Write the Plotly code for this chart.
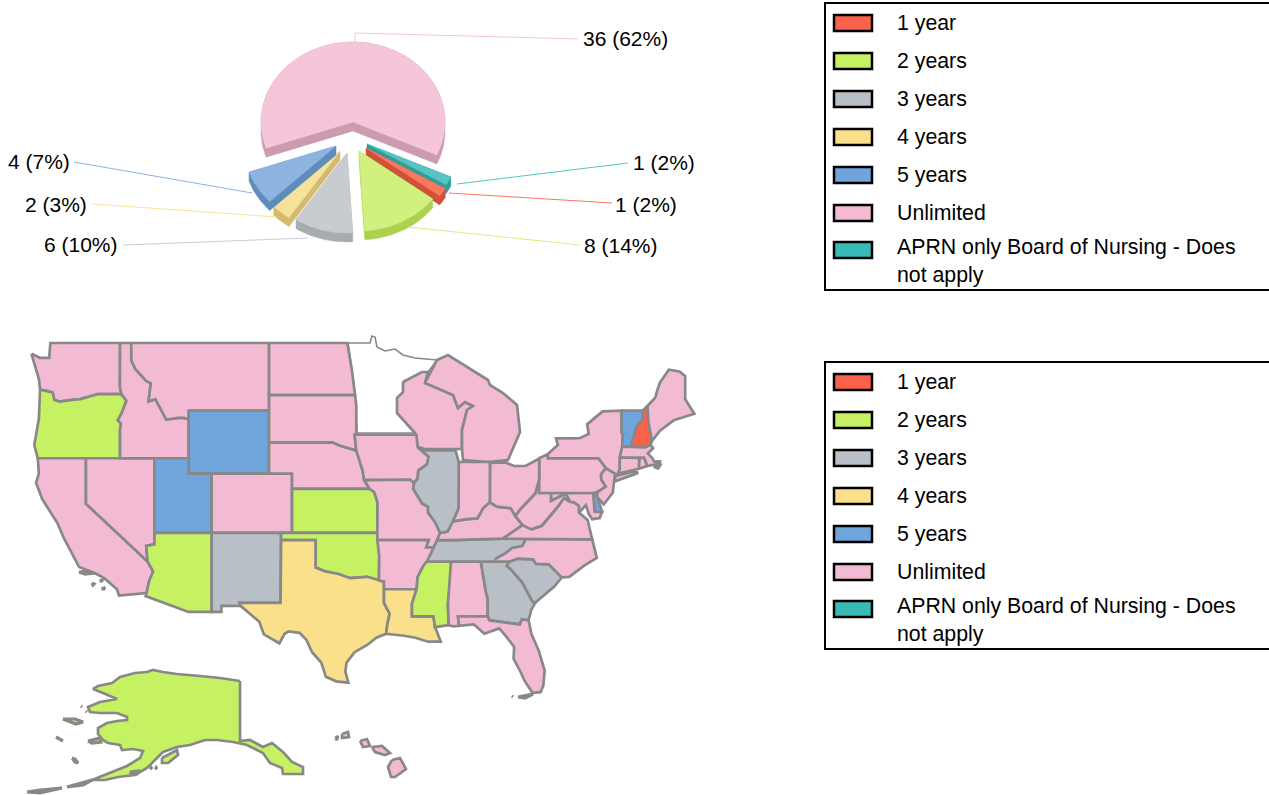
import numpy as np
import plotly.graph_objects as go

# ---------- data ----------
CATEGORIES = ["1 year", "2 years", "3 years", "4 years", "5 years", "Unlimited",
              "APRN only Board of Nursing - Does<br>not apply"]
COUNTS = [1, 8, 6, 2, 4, 36, 1]
STATES_1Y = ["NH"]
STATES_2Y = ["OR", "AZ", "KS", "OK", "MS", "AK"]
STATES_3Y = ["NM", "IL", "TN", "GA", "SC"]
STATES_4Y = ["TX", "LA"]
STATES_5Y = ["WY", "UT", "VT", "DE"]
STATES_NONE = ["MN"]

# ---------- style ----------
FONT = "Liberation Sans"
FILL = ["#F9614A", "#C5F163", "#B9BFC6", "#FAE08A", "#70A5DC", "#F3BBD3", "#38BBB6"]
PIE_TOP = ["#F87860", "#D0F080", "#C8CCD0", "#F7E29C", "#8DB4E0", "#F5C6DA", "#58C4C2"]
PIE_SIDE = ["#D05038", "#ACD050", "#A8ACB0", "#D2BB6C", "#5F8DBB", "#CD9BB0", "#309C9C"]
PIE_ORDER = [5, 6, 0, 1, 2, 3, 4]
PIE_OFFSET = [(13, 26), (6, 29), (-6, 31), (-13, 29), (-17, 24), (0, 0), (14, 22)]
PIE_LEADER = [[(449, 193), (612, 203)], [(408, 227), (580, 245)], [(308, 238), (123, 245)],
              [(277, 217), (92, 204)], [(252, 193), (74, 162)],
              [(355, 42), (355, 33), (578, 39)], [(457, 184), (628, 163)]]
PIE_LABEL = [(613, 204, "left"), (582, 245, "left"), (120, 244, "right"), (89, 204, "right"),
             (72, 161, "right"), (581, 38, "left"), (631, 162, "left")]
BORDER = "#888888"

# ---------- state outlines, (lon, lat) ----------
OUTLINES = {
 "WA": [(-124.75,48.38),(-124,48.15),(-123.2,48.15),(-123.1,49),(-117.03,49),(-117.04,46.42),(-116.92,46.0),(-118.98,46.0),(-119.3,45.93),(-120.5,45.7),(-121.2,45.65),(-122.3,45.55),(-122.75,45.65),(-122.9,46.1),(-123.4,46.2),(-124.0,46.27),(-124.1,46.9),(-124.4,47.6)],
 "OR": [(-124.0,46.27),(-123.4,46.2),(-122.9,46.1),(-122.75,45.65),(-122.3,45.55),(-121.2,45.65),(-120.5,45.7),(-119.3,45.93),(-118.98,46.0),(-116.92,46.0),(-116.48,45.6),(-116.85,44.9),(-117.22,44.4),(-116.95,44.2),(-117.03,43.8),(-117.03,42.0),(-124.2,42.0),(-124.5,42.85),(-124.1,44.5)],
 "CA": [(-124.2,42),(-120,42),(-120,39),(-114.63,35.0),(-114.15,34.27),(-114.5,33.6),(-114.72,32.72),(-117.12,32.53),(-117.3,33.0),(-118.4,33.8),(-119.2,34.15),(-120.6,34.6),(-121.3,35.7),(-121.9,36.6),(-122.5,37.7),(-123.0,38.3),(-123.8,39.3),(-124.35,40.4),(-124.1,41.0)],
 "NV": [(-120,42),(-114.04,42),(-114.04,36.2),(-114.75,36.1),(-114.63,35),(-120,39)],
 "ID": [(-117.03,49),(-116.05,49),(-116.05,48),(-115.7,47.5),(-114.75,46.8),(-114.35,46.65),(-114.55,45.55),(-113.95,45.7),(-113.45,45.05),(-113,44.45),(-112,44.55),(-111.5,44.55),(-111.05,44.48),(-111.05,42),(-117.03,42),(-117.03,43.8),(-116.95,44.2),(-117.22,44.4),(-116.85,44.9),(-116.48,45.6),(-116.92,46),(-117.04,46.42)],
 "MT": [(-116.05,49),(-104.05,49),(-104.05,45),(-111.05,45),(-111.05,44.48),(-111.5,44.55),(-112,44.55),(-113,44.45),(-113.45,45.05),(-113.95,45.7),(-114.55,45.55),(-114.35,46.65),(-114.75,46.8),(-115.7,47.5),(-116.05,48)],
 "WY": [(-111.05,45),(-104.05,45),(-104.05,41),(-111.05,41)],
 "UT": [(-114.04,42),(-111.05,42),(-111.05,41),(-109.05,41),(-109.05,37),(-114.04,37)],
 "CO": [(-109.05,41),(-102.05,41),(-102.05,37),(-109.05,37)],
 "AZ": [(-114.04,37),(-109.05,37),(-109.05,31.33),(-111.07,31.33),(-114.8,32.5),(-114.72,32.72),(-114.5,33.6),(-114.15,34.27),(-114.63,35),(-114.75,36.1),(-114.04,36.2)],
 "NM": [(-109.05,37),(-103,37),(-103.05,32),(-106.62,32),(-106.53,31.78),(-108.2,31.78),(-108.2,31.33),(-109.05,31.33)],
 "ND": [(-104.05,49),(-97.23,49),(-96.85,47.5),(-96.56,45.94),(-104.05,45.94)],
 "SD": [(-104.05,45.94),(-96.56,45.94),(-96.45,45.3),(-96.45,43.5),(-96.6,43.5),(-96.45,42.49),(-97.9,42.8),(-98.5,43.0),(-104.05,43)],
 "NE": [(-104.05,43),(-98.5,43),(-97.9,42.8),(-96.45,42.49),(-96.1,41.7),(-95.9,41.2),(-95.77,40.58),(-95.3,40),(-102.05,40),(-102.05,41),(-104.05,41)],
 "KS": [(-102.05,40),(-95.3,40),(-94.9,39.8),(-94.6,39.1),(-94.62,37),(-102.05,37)],
 "OK": [(-103,37),(-94.62,37),(-94.45,35.4),(-94.48,33.64),(-95.5,33.9),(-97,33.8),(-98,34.1),(-99.2,34.3),(-100,34.56),(-100,36.5),(-103,36.5)],
 "TX": [(-103,36.5),(-100,36.5),(-100,34.56),(-99.2,34.3),(-98,34.1),(-97,33.8),(-95.5,33.9),(-94.48,33.64),(-94.04,33.55),(-94.04,33),(-94.04,32),(-93.55,31.2),(-93.75,30.4),(-93.85,29.7),(-94.7,29.4),(-95.5,28.85),(-96.6,28.3),(-97.3,27.5),(-97.4,26.8),(-97.15,25.95),(-98.2,26.05),(-99.1,26.4),(-99.5,27.5),(-100.3,28.3),(-100.8,29.25),(-101.4,29.77),(-102.35,29.87),(-102.7,29.7),(-103.15,28.98),(-104.5,29.65),(-104.9,30.6),(-106.53,31.78),(-106.62,32),(-103.05,32)],
 "IA": [(-96.45,43.5),(-91.22,43.5),(-91.1,42.7),(-90.15,42.1),(-90.3,41.6),(-91.05,41.2),(-91.1,40.7),(-91.42,40.38),(-91.75,40.6),(-95.77,40.58),(-95.9,41.2),(-96.1,41.7),(-96.45,42.49),(-96.6,43.5)],
 "MO": [(-95.77,40.58),(-91.75,40.6),(-91.42,40.38),(-91.5,40.0),(-90.7,39.0),(-90.2,38.8),(-90.2,38.4),(-89.55,37.7),(-89.15,37.0),(-89.4,36.5),(-89.7,36),(-90.37,36),(-90.15,36.5),(-94.62,36.5),(-94.62,37),(-94.6,39.1),(-94.9,39.8),(-95.3,40)],
 "AR": [(-94.62,36.5),(-90.15,36.5),(-90.37,36),(-89.7,36),(-90.05,35.1),(-90.6,34.7),(-91.1,33.9),(-91.2,33),(-94.04,33),(-94.04,33.55),(-94.48,33.64),(-94.45,35.4)],
 "LA": [(-94.04,33),(-91.2,33),(-91.6,31.95),(-91.6,31),(-89.73,31),(-89.6,30.2),(-89.4,29.8),(-89.1,29.1),(-90.2,29.1),(-91.3,29.4),(-92.3,29.55),(-93.85,29.7),(-93.75,30.4),(-93.55,31.2),(-94.04,32)],
 "MS": [(-90.3,35),(-88.2,35),(-88.1,34.9),(-88.47,31.9),(-88.4,30.35),(-89.6,30.2),(-89.73,31),(-91.6,31),(-91.6,31.95),(-91.2,33),(-91.1,33.9),(-90.6,34.7)],
 "AL": [(-88.2,35),(-85.6,34.98),(-85.18,32.87),(-85,32.3),(-85,31),(-87.6,31),(-87.5,30.3),(-88,30.25),(-88.4,30.35),(-88.47,31.9)],
 "GA": [(-85.6,34.98),(-83.1,35),(-83.35,34.7),(-83.0,34.45),(-82.0,33.5),(-81.4,32.6),(-81.1,32.1),(-80.85,32.03),(-81.2,31.5),(-81.45,30.72),(-82.05,30.75),(-82.2,30.4),(-84.85,30.7),(-85,31),(-85,32.3),(-85.18,32.87)],
 "FL": [(-87.6,31),(-85,31),(-84.85,30.7),(-82.2,30.4),(-82.05,30.75),(-81.45,30.72),(-81.2,29.7),(-80.55,28.4),(-80.05,26.9),(-80.15,25.75),(-80.4,25.2),(-81.1,25.15),(-81.8,26.1),(-82.1,26.7),(-82.75,27.8),(-82.7,28.7),(-83.4,29.5),(-84.0,30.1),(-85.3,29.7),(-86.2,30.4),(-87.5,30.3)],
 "SC": [(-83.1,35),(-82.4,35.2),(-81.05,35.15),(-80.8,34.82),(-79.68,34.8),(-78.55,33.86),(-79.2,33.2),(-80.45,32.35),(-80.85,32.03),(-81.1,32.1),(-81.4,32.6),(-82,33.5),(-83,34.45),(-83.35,34.7)],
 "NC": [(-84.32,34.99),(-83.1,35),(-82.4,35.2),(-81.05,35.15),(-80.8,34.82),(-79.68,34.8),(-78.55,33.86),(-77.9,33.9),(-76.6,34.7),(-75.5,35.25),(-75.9,36.55),(-81.68,36.59),(-82,36.1),(-82.9,35.95),(-83.5,35.57),(-84.3,35.2)],
 "TN": [(-90.3,35),(-88.2,35),(-85.6,34.98),(-84.32,34.99),(-84.3,35.2),(-83.5,35.57),(-82.9,35.95),(-82,36.1),(-81.68,36.59),(-83.68,36.6),(-88.05,36.5),(-89.4,36.5),(-89.7,36)],
 "KY": [(-89.4,36.5),(-88.05,36.5),(-83.68,36.6),(-81.97,37.54),(-82.6,38.17),(-83.0,38.7),(-84.2,38.8),(-84.82,39.1),(-85.4,38.7),(-85.9,38),(-86.8,37.95),(-88.05,37.8),(-88.5,37.1),(-89.15,37)],
 "VA": [(-83.68,36.6),(-81.68,36.59),(-75.9,36.55),(-76.3,37.9),(-77.05,38.4),(-77.05,38.85),(-77.5,39.1),(-77.83,39.13),(-78.35,39.4),(-78.9,38.8),(-79.3,38.4),(-80.3,37.5),(-81.2,37.25),(-81.97,37.54)],
 "WV": [(-81.97,37.54),(-81.2,37.25),(-80.3,37.5),(-79.3,38.4),(-78.9,38.8),(-78.35,39.4),(-77.83,39.13),(-78.2,39.7),(-79.48,39.2),(-79.48,39.72),(-80.52,39.72),(-80.52,40.64),(-80.85,39.7),(-81.7,39.0),(-82.2,38.6),(-82.6,38.17)],
 "MD": [(-79.48,39.72),(-75.79,39.72),(-75.69,38.46),(-75.05,38.45),(-75.25,38.03),(-75.9,37.95),(-76.2,38.3),(-76.45,38.9),(-77.05,38.4),(-77.05,38.85),(-77.5,39.1),(-77.83,39.13),(-78.2,39.7),(-79.48,39.2)],
 "DE": [(-75.79,39.72),(-75.5,39.83),(-75.4,39.4),(-75.05,38.45),(-75.69,38.46)],
 "PA": [(-80.52,42),(-79.76,42.27),(-79.76,42),(-75.35,42),(-74.7,41.36),(-75.13,40.95),(-75.1,40.6),(-74.72,40.15),(-75.4,39.8),(-75.79,39.72),(-80.52,39.72)],
 "NJ": [(-74.7,41.36),(-73.9,41),(-74.0,40.5),(-74.1,39.75),(-74.9,38.95),(-75.5,39.5),(-75.4,39.8),(-74.72,40.15),(-75.1,40.6),(-75.13,40.95)],
 "NY": [(-79.76,42.27),(-78.9,42.85),(-79.05,43.27),(-77,43.28),(-76.2,43.55),(-76.35,44.15),(-75,44.95),(-73.35,45),(-73.35,43.65),(-73.25,43.55),(-73.28,42.75),(-73.5,42.05),(-73.5,41.3),(-73.65,41),(-73.8,40.85),(-72.3,41.15),(-71.9,41.05),(-73.9,40.5),(-73.9,41),(-74.7,41.36),(-75.35,42),(-79.76,42)],
 "VT": [(-73.35,45),(-71.5,45),(-71.5,44.5),(-72.05,44),(-72.45,43),(-72.46,42.73),(-73.28,42.75),(-73.25,43.55),(-73.35,43.65)],
 "NH": [(-71.5,45),(-71.08,45.3),(-71.0,44.3),(-70.7,43.1),(-70.82,42.87),(-71.3,42.7),(-72.46,42.73),(-72.45,43),(-72.05,44),(-71.5,44.5)],
 "ME": [(-71.08,45.3),(-70.4,45.8),(-70.25,46.2),(-70,46.7),(-69.23,47.46),(-68.3,47.35),(-67.8,47.07),(-67.8,45.7),(-67.45,45.3),(-67,44.8),(-68.8,44.4),(-70,43.75),(-70.7,43.1),(-71,44.3)],
 "MA": [(-73.5,42.05),(-73.28,42.75),(-72.46,42.73),(-71.3,42.7),(-70.82,42.87),(-70.6,42.65),(-71.05,42.3),(-70.65,42),(-70.5,41.78),(-70,41.8),(-70,41.65),(-70.65,41.55),(-71.12,41.5),(-71.38,42.02),(-71.8,42.02)],
 "RI": [(-71.8,42.02),(-71.38,42.02),(-71.12,41.5),(-71.85,41.32)],
 "CT": [(-73.5,42.05),(-71.8,42.02),(-71.85,41.32),(-73.65,41),(-73.5,41.3)],
 "OH": [(-84.81,41.7),(-83.45,41.73),(-82.7,41.5),(-81.7,41.5),(-80.52,41.98),(-80.52,40.64),(-80.85,39.7),(-81.7,39),(-82.2,38.6),(-82.6,38.17),(-83,38.7),(-84.2,38.8),(-84.82,39.1)],
 "IN": [(-87.53,41.76),(-84.81,41.76),(-84.82,39.1),(-85.4,38.7),(-85.9,38),(-86.8,37.95),(-88.05,37.8),(-87.55,38.7),(-87.53,39.35)],
 "IL": [(-90.65,42.5),(-87.8,42.5),(-87.53,41.76),(-87.53,39.35),(-87.55,38.7),(-88.05,37.8),(-88.5,37.1),(-89.15,37),(-89.55,37.7),(-90.2,38.4),(-90.2,38.8),(-90.7,39),(-91.5,40),(-91.42,40.38),(-91.1,40.7),(-91.05,41.2),(-90.3,41.6),(-90.15,42.1),(-91.1,42.7)],
}
# outlines traced directly on the page, where the source map departs from geography
TRACED = {
 "MN": [[(348,343),(370,343),(372,336),(375,337),(377,347),(385,351),(395,349),(403,355),(415,358),(437,360),(428,372),(403,382),(403,392),(397,398),(397,413),(415,433),(357,433),(355,393)]],
 "WI": [[(403,382),(422,372),(428,372),(425,383),(453,395),(458,408),(465,402),(473,406),(467,410),(462,430),(462,449),(425,449),(418,447),(415,433),(397,413),(397,398),(403,392)]],
 "MI": [[(425,383),(437,360),(448,355),(488,380),(490,385),(503,393),(517,405),(520,432),(508,460),(488,462),(463,460),(462,449),(462,430),(467,410),(473,406),(465,402),(458,408),(453,395)]],
 "AK": [[(240,681),(220,678),(200,676),(177,674),(163,672),(153,670),(147,672),(135,673),(120,677),(112,683),(98,686),(93,689),(103,693),(117,699),(100,702),(88,707),(90,712),(100,713),(117,713),(127,717),(127,720),(117,721),(107,723),(98,728),(98,734),(103,740),(108,743),(120,745),(122,750),(133,749),(143,751),(140,758),(127,766),(117,770),(100,777),(92,780),(105,780),(118,777),(135,775),(147,768),(163,752),(177,747),(190,745),(205,740),(217,740),(233,742),(247,745),(263,753),(270,763),(282,768),(283,774),(303,774),(303,767),(292,762),(283,752),(272,743),(263,747),(250,740),(240,741)],
        [(162,758),(177,750),(178,755),(168,763),(162,763)]],
 "HI": [[(392,760),(400,758),(406,769),(395,777),(391,777),(388,767)],
        [(372,747),(382,746),(390,753),(385,755),(375,752)],
        [(360,741),(367,739),(370,746),(363,747)],
        [(342,734),(348,732),(349,737),(342,738)], [(335,738),(338,736),(337,740)]],
}
ISLANDS = {
 "AK": [[(27,792),(40,790),(62,788),(40,793)], [(67,787),(83,783),(92,780),(83,785)],
        [(63,719),(75,719),(83,722),(76,724)], [(56,737),(63,741),(58,739)],
        [(88,741),(100,738),(101,742),(92,743)], [(72,758),(75,759),(78,763),(75,762)],
        [(81,706),(82,707),(81,707)], [(86,711),(87,712),(86,712)],
        [(130,772),(138,771),(137,774),(131,774)], [(155,767),(157,767),(156,768)], [(150,767),(152,767),(151,768)]],
 "CA": [[(79,572),(90,571),(95,573),(85,574)], [(92,583),(94,584),(93,585)], [(101,579),(103,581),(101,581)], [(103,587),(105,589),(103,589)]],
 "FL": [[(512,696),(513,697),(512,697)], [(518,697),(533,694),(525,698)]],
 "MA": [[(654,464),(660,465),(658,468),(655,467)]],
}

# ---------- build ----------
def merc(lat):
    return np.arcsinh(np.tan(np.radians(lat)))

PX_PER_DEG = 11.48
PX_PER_RAD = 660.0
M49 = merc(49.0)
LON0 = -124.7 - 32 / PX_PER_DEG

category_of = {}
for idx, group in enumerate([STATES_1Y, STATES_2Y, STATES_3Y, STATES_4Y, STATES_5Y]):
    for s in group:
        category_of[s] = idx

def state_fill(s):
    if s in STATES_NONE:
        return "#FFFFFF"
    return FILL[category_of.get(s, 5)]

fig = go.Figure()

def add_state(name, xs, ys, xa, ya, width=2.7):
    fig.add_trace(go.Scatter(x=xs, y=ys, mode="lines", fill="toself", fillcolor=state_fill(name),
                             line=dict(color=BORDER, width=width), xaxis=xa, yaxis=ya,
                             hoverinfo="skip", showlegend=False))

def add_rings(name, rings, width=2.7):
    xs, ys = [], []
    for ring in rings:
        closed = ring + ring[:1]
        xs += [p[0] for p in closed] + [None]
        ys += [p[1] for p in closed] + [None]
    add_state(name, xs, ys, "x", "y", width)

add_rings("MN", TRACED["MN"], 1.6)
for name, ring in OUTLINES.items():
    ring = ring + ring[:1]
    add_state(name, [p[0] for p in ring], [float(merc(p[1])) for p in ring], "x2", "y2")
for name, rings in TRACED.items():
    if name != "MN":
        add_rings(name, rings)
for name, rings in ISLANDS.items():
    add_rings(name, rings, 3.2)

# ---------- pie ----------
CX, CY, RX, RY, DEPTH = 353, 122, 92, 80, 9
TOTAL = sum(COUNTS)

def hull(points):
    pts = sorted(set(points))
    def half(seq):
        out = []
        for p in seq:
            while len(out) >= 2 and (out[-1][0]-out[-2][0])*(p[1]-out[-2][1]) - (out[-1][1]-out[-2][1])*(p[0]-out[-2][0]) <= 0:
                out.pop()
            out.append(p)
        return out[:-1]
    return half(pts) + half(pts[::-1])

start = 160.9
for i in PIE_ORDER:
    sweep = 360.0 * COUNTS[i] / TOTAL
    th = np.radians(np.linspace(start, start + sweep, max(6, int(sweep))))
    start += sweep
    ax, ay = CX + PIE_OFFSET[i][0], CY + PIE_OFFSET[i][1]
    arc = [(ax + RX*np.cos(t), ay + RY*np.sin(t)) for t in th]
    if sweep < 180:
        body = hull([(ax, ay)] + arc + [(ax, ay+DEPTH)] + [(x, y+DEPTH) for x, y in arc])
    else:
        body = [(ax, ay+DEPTH)]
        for t, (x, y) in zip(th, arc):
            body.append((x, y + (DEPTH if np.sin(t) > 0 else 0)))
        body.append((ax, ay+DEPTH))
    top = [(ax, ay)] + arc + [(ax, ay)]
    for poly, col in ((body, PIE_SIDE[i]), (top, PIE_TOP[i])):
        poly = list(poly) + [poly[0]]
        fig.add_trace(go.Scatter(x=[float(p[0]) for p in poly], y=[float(p[1]) for p in poly],
                                 mode="lines", fill="toself", fillcolor=col, line=dict(color=col, width=0.5),
                                 hoverinfo="skip", showlegend=False))

annotations = []
for i in range(len(COUNTS)):
    leader = PIE_LEADER[i]
    fig.add_trace(go.Scatter(x=[p[0] for p in leader], y=[p[1] for p in leader], mode="lines",
                             line=dict(color=PIE_TOP[i], width=1), hoverinfo="skip", showlegend=False))
    lx, ly, side = PIE_LABEL[i]
    annotations.append(dict(x=lx, y=ly, xref="x", yref="y", xanchor=side, yanchor="middle", showarrow=False,
                            text=f"{COUNTS[i]} ({round(100*COUNTS[i]/TOTAL)}%)",
                            font=dict(family=FONT, size=21, color="#000000")))

# ---------- legends ----------
shapes = []
for box_top in (3, 362):
    shapes.append(dict(type="rect", xref="x", yref="y", x0=825, x1=1275, y0=box_top, y1=box_top+287,
                       line=dict(color="#000000", width=2), fillcolor="rgba(0,0,0,0)"))
    for i, cat in enumerate(CATEGORIES):
        cy = box_top + 20 + 38 * i if i < 6 else box_top + 247
        shapes.append(dict(type="rect", xref="x", yref="y", x0=834, x1=872, y0=cy-8, y1=cy+8,
                           line=dict(color="#000000", width=2.5), fillcolor=FILL[i]))
        ty = cy if i < 6 else cy + 11
        annotations.append(dict(x=895, y=ty, xref="x", yref="y", xanchor="left", yanchor="middle", align="left",
                                showarrow=False, text=cat, font=dict(family=FONT, size=21.3, color="#000000")))

hidden = dict(visible=False, fixedrange=True, domain=[0, 1])
fig.update_layout(
    width=1269, height=795, margin=dict(l=0, r=0, t=0, b=0),
    paper_bgcolor="#FFFFFF", plot_bgcolor="rgba(0,0,0,0)", showlegend=False,
    xaxis=dict(range=[0, 1269], **hidden),
    yaxis=dict(range=[795, 0], **hidden),
    xaxis2=dict(range=[LON0, LON0 + 1269 / PX_PER_DEG], overlaying="x", **hidden),
    yaxis2=dict(range=[M49 - (795 - 343) / PX_PER_RAD, M49 + 343 / PX_PER_RAD], overlaying="y", **hidden),
    shapes=shapes, annotations=annotations,
)
fig.write_html("out.html", post_script="document.body.style.margin='0';",
               config=dict(displayModeBar=False, staticPlot=True))
